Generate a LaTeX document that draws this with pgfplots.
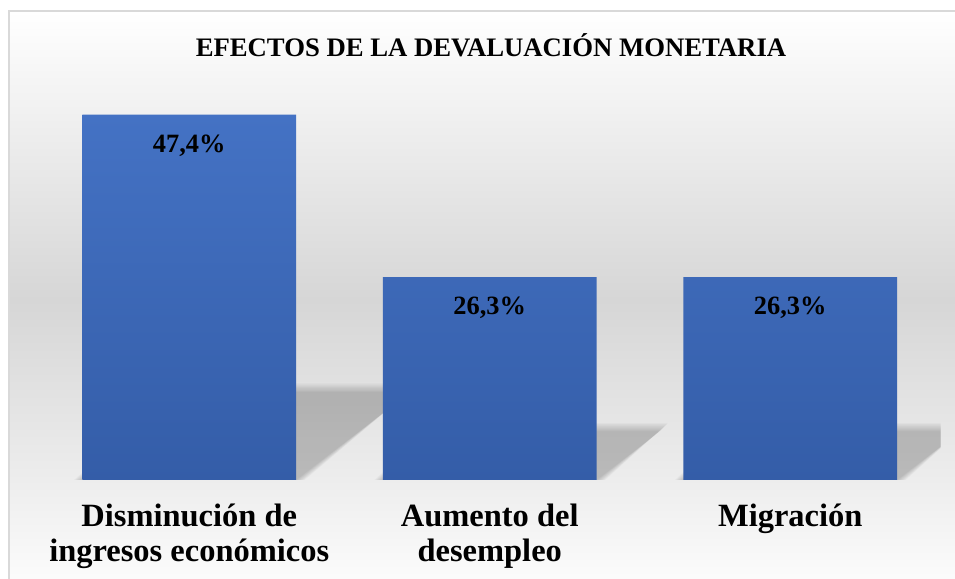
\documentclass[border=0pt]{standalone}
\usepackage{pgfplots}
\pgfplotsset{compat=1.18}
\usepackage{fontspec}
\setmainfont{Liberation Serif}

\definecolor{bartop}{HTML}{4472C4}
\definecolor{barbot}{HTML}{345DA8}
\definecolor{bgmid}{HTML}{D6D6D6}
\definecolor{bgfloor}{HTML}{EDEDED}
\definecolor{bgbot}{HTML}{FCFCFC}
\definecolor{frame}{HTML}{D9D9D9}

\begin{document}
\begin{tikzpicture}
% page = 955 x 579 (1bp per pixel)
\clip (0,0) rectangle (955bp,579bp);
\fill[white] (0,0) rectangle (955bp,579bp);
% chart background gradient
\shade[top color=white, bottom color=bgmid] (9bp,279bp) rectangle (960bp,568bp);
\shade[top color=bgmid, bottom color=bgfloor] (9bp,99bp) rectangle (960bp,279.5bp);
\shade[top color=bgfloor, bottom color=bgbot] (9bp,-5bp) rectangle (960bp,99.5bp);
\draw[frame, line width=1.5bp] (9bp,-5bp) -- (9bp,568bp) -- (960bp,568bp);

\node[anchor=base, font=\bfseries\fontsize{26.8}{30}\selectfont] at (491bp,522bp)
  {EFECTOS DE LA DEVALUACIÓN MONETARIA};

\begin{axis}[
    at={(39bp,99bp)}, anchor=south west,
    scale only axis,
    width=901.5bp, height=385.5bp,
    xmin=-0.5, xmax=2.5,
    ymin=0, ymax=50,
    axis line style={draw=none},
    ytick=\empty,
    xtick={0,1,2},
    xticklabels={{Disminución de\\ingresos económicos},{Aumento del\\desempleo},{Migración}},
    major tick length=0pt,
    xticklabel style={font=\bfseries\fontsize{32.6}{35}\selectfont, align=center,
        anchor=north, inner sep=0pt, yshift=-24bp},
    ybar, bar width=0.712,
    /pgf/number format/assume math mode=true,
    /pgf/number format/.cd, use comma, fixed, fixed zerofill, precision=1,
    /pgfplots/.cd,
    nodes near coords={\pgfmathprintnumber{\pgfplotspointmeta}\%},
    every node near coord/.append style={anchor=north, inner sep=0pt, yshift=-20bp,
        font=\bfseries\fontsize{26.5}{30}\selectfont, text=black},
]
% soft perspective shadows behind the bars (stacked layers give a blurred edge)
\pgfplotsinvokeforeach{0,...,7}{
  \fill[black, opacity=0.028]
    ({-0.356-0.004*#1},0) -- ({0.356+0.004*#1},0)
    -- ({0.735+0.004*#1},{11.4+0.16*#1}) -- ({0.023-0.004*#1},{11.4+0.16*#1}) -- cycle;
  \fill[black, opacity=0.028]
    ({0.644-0.004*#1},0) -- ({1.356+0.004*#1},0)
    -- ({1.566+0.004*#1},{6.3+0.16*#1}) -- ({0.854-0.004*#1},{6.3+0.16*#1}) -- cycle;
  \fill[black, opacity=0.028]
    ({1.644-0.004*#1},0) -- ({2.356+0.004*#1},0)
    -- ({2.566+0.004*#1},{6.3+0.16*#1}) -- ({1.854-0.004*#1},{6.3+0.16*#1}) -- cycle;
}
\addplot[draw=none, top color=bartop, bottom color=barbot]
    coordinates {(0,47.4) (1,26.3) (2,26.3)};
\end{axis}
\end{tikzpicture}
\end{document}
